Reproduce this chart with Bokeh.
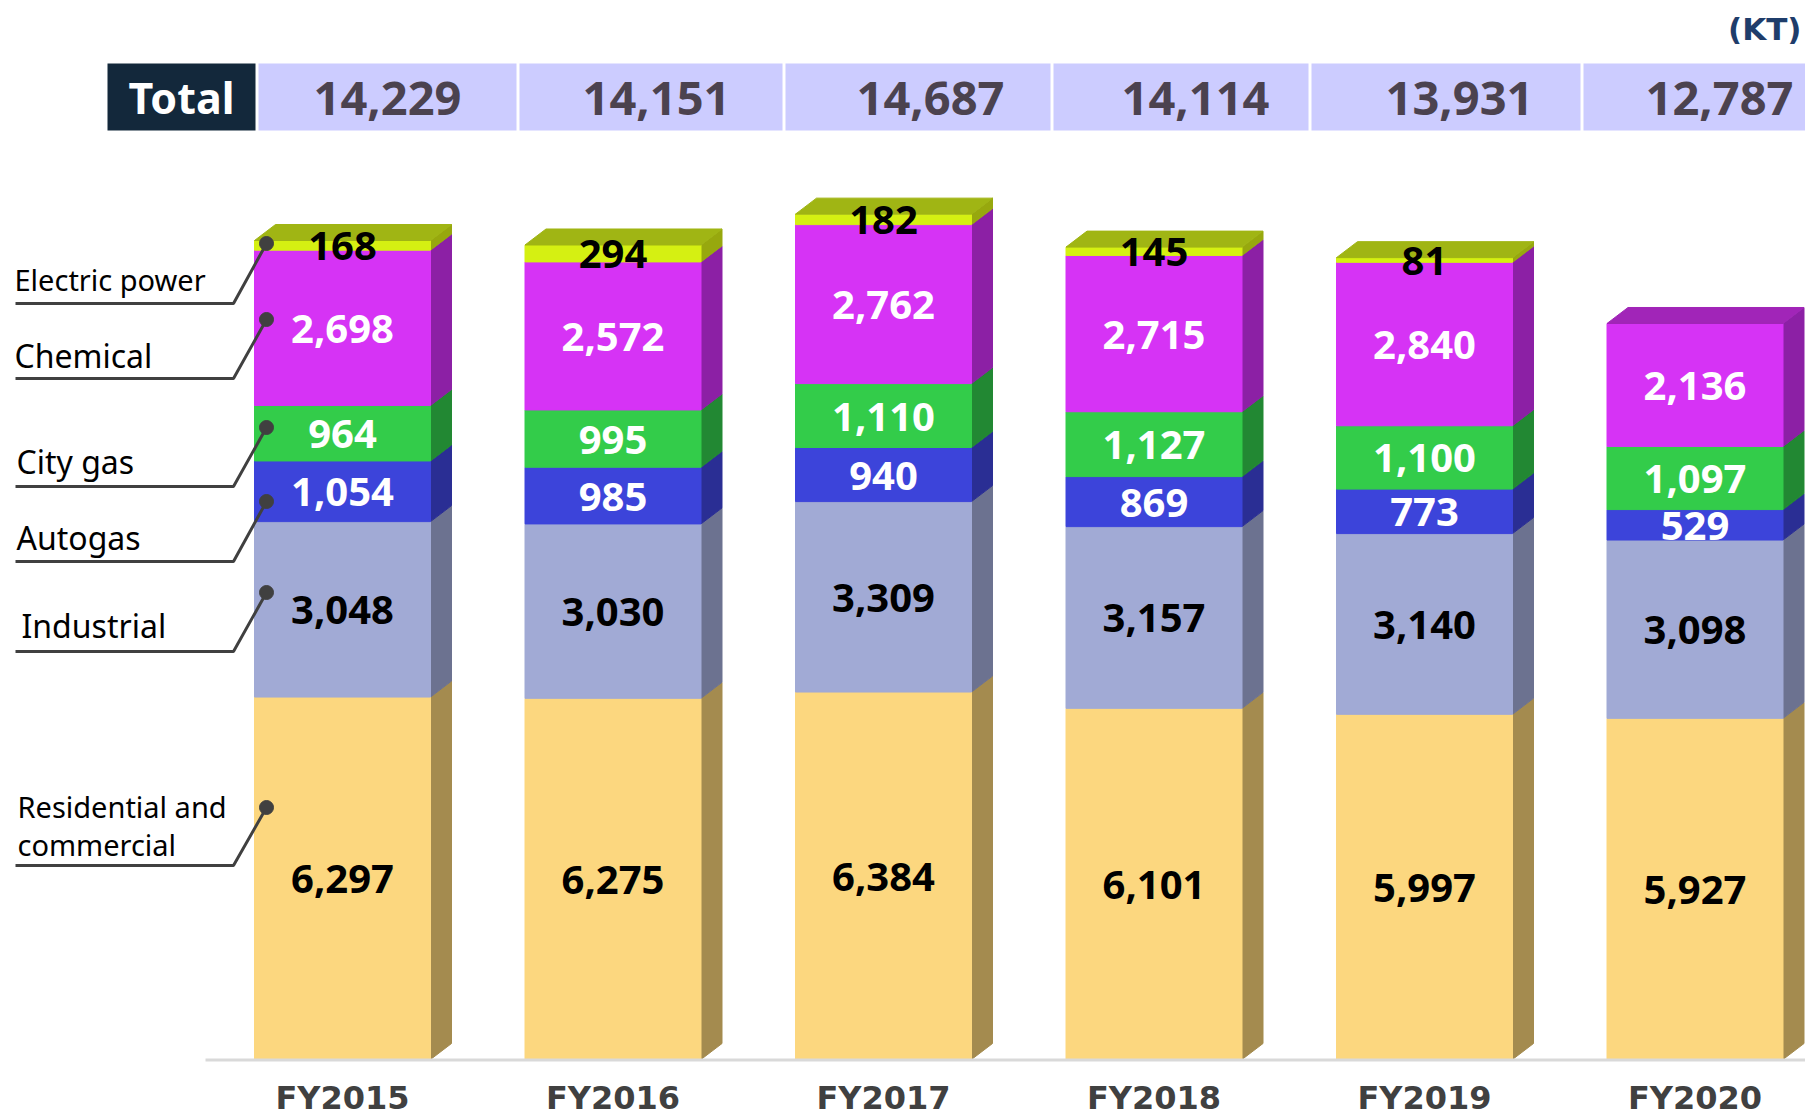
from bokeh.plotting import figure
from bokeh.models import Range1d
from bokeh.core.properties import value
from bokeh.embed import file_html
from bokeh.resources import INLINE

# ---------------- data ----------------
years = ["FY2015", "FY2016", "FY2017", "FY2018", "FY2019", "FY2020"]
totals = [14229, 14151, 14687, 14114, 13931, 12787]
residential = [6297, 6275, 6384, 6101, 5997, 5927]
industrial = [3048, 3030, 3309, 3157, 3140, 3098]
autogas = [1054, 985, 940, 869, 773, 529]
city_gas = [964, 995, 1110, 1127, 1100, 1097]
chemical = [2698, 2572, 2762, 2715, 2840, 2136]
electric = [168, 294, 182, 145, 81, 0]
segment_names = ["Residential and commercial", "Industrial", "Autogas",
                 "City gas", "Chemical", "Electric power"]
series = [residential, industrial, autogas, city_gas, chemical, electric]

# ---------------- style ----------------
front_colors = ["#fcd77f", "#a1aad5", "#3c44da", "#33cc4a", "#d633f5", "#d5f012"]
side_colors = ["#a48b4f", "#6c7290", "#2a2e94", "#228833", "#8c20a5", "#97a80e"]
top_colors = ["#c9ac62", "#8088b0", "#3035b0", "#27a83a", "#a125b8", "#a0b514"]
label_colors = ["#000000", "#000000", "#ffffff", "#ffffff", "#ffffff", "#000000"]

KPX = 819.0 / 14229.0          # pixels per KT
BASE_Y = 1059.0                # reference pixel row of the baseline


def py(ref_y):
    """reference pixel row -> data value"""
    return (BASE_Y - ref_y) / KPX


W, H = 1805, 1116

p = figure(width=W, height=H, output_backend="svg", toolbar_location=None,
           x_range=Range1d(0, W), y_range=Range1d(py(H), py(0)),
           min_border=0)
p.axis.visible = False
p.grid.visible = False
p.outline_line_color = None
p.background_fill_color = "white"
p.border_fill_color = "white"

bar_c0, bar_step, bar_half = 342.0, 270.5, 88.0
DX = 21.0
DY = 16.0 / KPX
centers = [bar_c0 + i * bar_step for i in range(len(years))]

# ---------------- bars ----------------
side_xs, side_ys, side_c = [], [], []
fl, fr, fb, ft, fc = [], [], [], [], []
lab_x, lab_y, lab_t, lab_c = [], [], [], []
top_xs, top_ys, top_c = [], [], []
for i, cx in enumerate(centers):
    left, right = cx - bar_half, cx + bar_half
    bottom = 0.0
    last_k = 0
    for k, s in enumerate(series):
        v = s[i]
        if v <= 0:
            continue
        top = bottom + v
        side_xs.append([right, right + DX, right + DX, right])
        side_ys.append([bottom, bottom + DY, top + DY, top])
        side_c.append(side_colors[k])
        fl.append(left); fr.append(right); fb.append(bottom); ft.append(top)
        fc.append(front_colors[k])
        lab_x.append(cx); lab_y.append((bottom + top) / 2.0)
        lab_t.append(f"{v:,}"); lab_c.append(label_colors[k])
        bottom = top
        last_k = k
    top_xs.append([left, left + DX, right + DX, right])
    top_ys.append([bottom, bottom + DY, bottom + DY, bottom])
    top_c.append(top_colors[last_k])

p.patches(side_xs, side_ys, fill_color=side_c, line_color=side_c, line_width=1)
p.quad(left=fl, right=fr, bottom=fb, top=ft, fill_color=fc, line_color=fc, line_width=1)
p.patches(top_xs, top_ys, fill_color=top_c, line_color=top_c, line_width=1)

p.text(lab_x, lab_y, text=lab_t, text_color=lab_c, text_font=value("Noto Sans"),
       text_font_style="bold", text_font_size="40px", text_align="center",
       text_baseline="middle", y_offset=1)

# baseline
p.line([205, 1805], [py(1059.5), py(1059.5)], line_color="#d9d9d9", line_width=3)

# x labels
p.text(centers, [py(1097)] * len(years), text=years, text_color="#404040",
       text_font=value("DejaVu Sans"), text_font_style="bold",
       text_font_size="32px", text_align="center", text_baseline="middle")

# ---------------- header ----------------
p.quad(left=[107], right=[255], top=[py(63)], bottom=[py(130)],
       fill_color="#13283b", line_color=None)
p.text([181], [py(97)], text=["Total"], text_color="white",
       text_font=value("Noto Sans"), text_font_style="bold",
       text_font_size="43px", text_align="center", text_baseline="middle")
cell_edges = [258, 519, 785, 1053, 1311, 1583, 1810]
cl = [cell_edges[i] for i in range(6)]
cr = [cell_edges[i + 1] - 3 for i in range(6)]
p.quad(left=cl, right=cr, top=[py(63)] * 6, bottom=[py(130)] * 6,
       fill_color="#ccccff", line_color=None)
num_x = [387, 656, 930, 1195, 1459, 1719]
p.text(num_x, [py(98)] * 6, text=[f"{t:,}" for t in totals], text_color="#4b424f",
       text_font=value("Noto Sans"), text_font_style="bold",
       text_font_size="47px", text_align="center", text_baseline="middle")

p.text([1801], [py(28)], text=["(KT)"], text_color="#1f3d6b",
       text_font=value("DejaVu Sans"), text_font_style="bold",
       text_font_size="31px", text_align="right", text_baseline="middle")

# ---------------- leader labels ----------------
leader_names = ["Electric power", "Chemical", "City gas", "Autogas", "Industrial",
                "Residential and", "commercial"]
leader_mid = [279, 355, 461, 537, 625, 806, 844]
leader_size = ["29px", "32px", "32px", "32px", "32px", "29px", "29px"]
leader_x = [14, 14, 16, 16, 21, 17, 17]
leader_under = [303, 378, 486, 561, 651, 865]
leader_dot = [243, 319, 427, 501, 592, 807]

dot_x = 266
ux0, ux1 = 15, 233
lx, ly = [], []
for u, d in zip(leader_under, leader_dot):
    lx.append([ux0, ux1, dot_x])
    ly.append([py(u), py(u), py(d)])
p.multi_line(lx, ly, line_color="#404040", line_width=3)
p.scatter([dot_x] * len(leader_dot), [py(d) for d in leader_dot], size=14,
          marker="circle", fill_color="#404040", line_color="#404040")

for name, m, sz, x in zip(leader_names, leader_mid, leader_size, leader_x):
    p.text([x], [py(m)], text=[name], text_color="#000000",
           text_font=value("Noto Sans"), text_font_size=sz,
           text_align="left", text_baseline="middle")

open("out.html", "w").write(file_html(p, INLINE))
